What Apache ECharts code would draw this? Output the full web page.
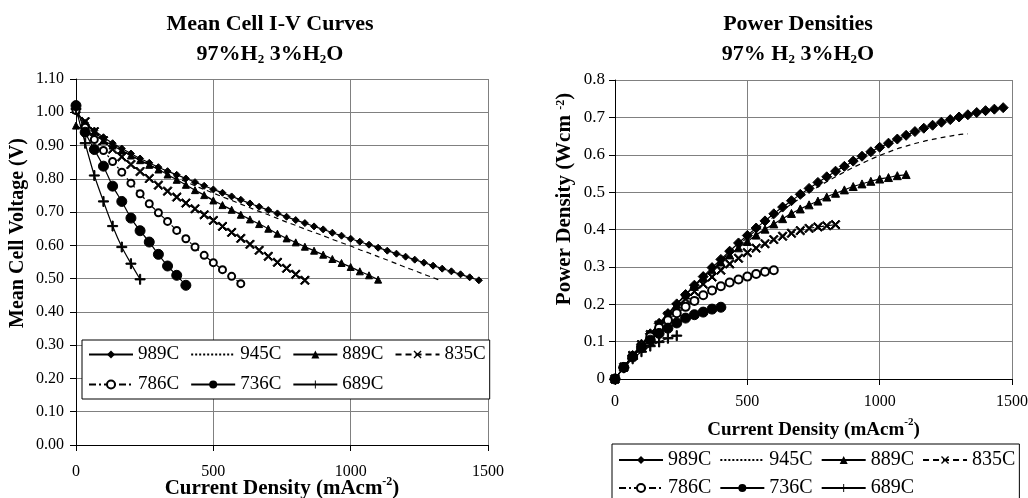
<!DOCTYPE html>
<html>
<head>
<meta charset="utf-8">
<script src="https://cdn.jsdelivr.net/npm/echarts@6/dist/echarts.min.js"></script>
<style>
html,body{margin:0;padding:0;background:#fff;}
#chart{width:1028px;height:498px;}
</style>
</head>
<body>
<div id="chart"></div>
<script>
// ---- data ----
const temps = ['989C', '945C', '889C', '835C', '786C', '736C', '689C'];
const current = [0, 33.3, 66.7, 100, 133.3, 166.7, 200, 233.3, 266.7, 300, 333.3, 366.7, 400, 433.3, 466.7, 500,
  533.3, 566.7, 600, 633.3, 666.7, 700, 733.3, 766.7, 800, 833.3, 866.7, 900, 933.3, 966.7, 1000,
  1033.3, 1066.7, 1100, 1133.3, 1166.7, 1200, 1233.3, 1266.7, 1300, 1333.3, 1366.7, 1400, 1433.3, 1466.7];

// mean cell voltage (V)
const v989 = [1.005, 0.968, 0.945, 0.925, 0.907, 0.891, 0.876, 0.861, 0.848, 0.835, 0.823, 0.812, 0.801, 0.790, 0.779, 0.768,
  0.758, 0.747, 0.737, 0.726, 0.716, 0.706, 0.696, 0.686, 0.676, 0.667, 0.657, 0.648, 0.638, 0.629, 0.620,
  0.611, 0.602, 0.593, 0.584, 0.575, 0.566, 0.557, 0.548, 0.539, 0.530, 0.522, 0.513, 0.504, 0.495];
const v945 = [0.995, 0.965, 0.942, 0.921, 0.903, 0.886, 0.870, 0.855, 0.841, 0.828, 0.815, 0.803, 0.791, 0.779, 0.768, 0.757,
  0.746, 0.735, 0.724, 0.713, 0.702, 0.692, 0.681, 0.670, 0.660, 0.649, 0.639, 0.629, 0.618, 0.608, 0.598,
  0.587, 0.577, 0.566, 0.556, 0.545, 0.534, 0.524, 0.513, 0.503, 0.492];
const v889 = [0.960, 0.945, 0.930, 0.915, 0.900, 0.885, 0.870, 0.856, 0.842, 0.828, 0.813, 0.797, 0.782, 0.766, 0.751, 0.735,
  0.721, 0.707, 0.692, 0.678, 0.664, 0.650, 0.635, 0.621, 0.609, 0.596, 0.584, 0.572, 0.559, 0.547, 0.535,
  0.522, 0.510, 0.497];
const v835 = [1.010, 0.972, 0.942, 0.915, 0.889, 0.866, 0.843, 0.822, 0.801, 0.781, 0.763, 0.745, 0.727, 0.710, 0.692, 0.675,
  0.657, 0.639, 0.621, 0.603, 0.585, 0.567, 0.549, 0.531, 0.513, 0.495];
const v786 = [1.005, 0.955, 0.918, 0.885, 0.852, 0.820, 0.787, 0.755, 0.725, 0.698, 0.672, 0.645, 0.620, 0.595, 0.570, 0.548,
  0.527, 0.507, 0.485];
const v736 = [1.020, 0.940, 0.888, 0.838, 0.778, 0.732, 0.682, 0.644, 0.610, 0.573, 0.538, 0.510, 0.480];
const v689 = [1.010, 0.907, 0.810, 0.732, 0.658, 0.595, 0.545, 0.498];

// power density (W cm^-2)
const p989 = [0, 0.032, 0.063, 0.093, 0.121, 0.149, 0.175, 0.201, 0.226, 0.251, 0.274, 0.298, 0.320, 0.342, 0.364, 0.384,
  0.404, 0.423, 0.442, 0.460, 0.477, 0.494, 0.510, 0.526, 0.541, 0.556, 0.569, 0.583, 0.596, 0.608, 0.620,
  0.631, 0.642, 0.652, 0.662, 0.671, 0.679, 0.687, 0.694, 0.701, 0.707, 0.713, 0.718, 0.722, 0.726];
const p945 = [0, 0.032, 0.063, 0.092, 0.120, 0.148, 0.174, 0.200, 0.224, 0.248, 0.272, 0.295, 0.316, 0.338, 0.358, 0.379,
  0.398, 0.417, 0.434, 0.452, 0.468, 0.484, 0.499, 0.514, 0.528, 0.541, 0.554, 0.566, 0.577, 0.588, 0.598,
  0.607, 0.616, 0.623, 0.630, 0.636, 0.641, 0.646, 0.650, 0.654, 0.656];
const p889 = [0, 0.032, 0.062, 0.092, 0.120, 0.148, 0.174, 0.200, 0.225, 0.248, 0.271, 0.292, 0.313, 0.332, 0.351, 0.368,
  0.385, 0.401, 0.415, 0.429, 0.443, 0.455, 0.466, 0.476, 0.487, 0.497, 0.506, 0.515, 0.522, 0.529, 0.535,
  0.539, 0.544, 0.547];
const p835 = [0, 0.032, 0.063, 0.092, 0.119, 0.144, 0.169, 0.192, 0.214, 0.234, 0.254, 0.273, 0.291, 0.308, 0.323, 0.338,
  0.350, 0.362, 0.373, 0.382, 0.390, 0.397, 0.403, 0.407, 0.410, 0.413];
const p786 = [0, 0.032, 0.061, 0.089, 0.114, 0.137, 0.157, 0.176, 0.193, 0.209, 0.224, 0.237, 0.248, 0.258, 0.266, 0.274,
  0.281, 0.287, 0.291];
const p736 = [0, 0.031, 0.059, 0.084, 0.104, 0.122, 0.136, 0.150, 0.163, 0.172, 0.179, 0.187, 0.192];
const p689 = [0, 0.030, 0.054, 0.073, 0.088, 0.099, 0.109, 0.116];

const voltages = [v989, v945, v889, v835, v786, v736, v689];
const powers = [p989, p945, p889, p835, p786, p736, p689];

// ---- styles ----
const FONT = 'Liberation Serif';
const CROSS = 'path://M0,1.2 L1.2,0 L5,3.8 L8.8,0 L10,1.2 L6.2,5 L10,8.8 L8.8,10 L5,6.2 L1.2,10 L0,8.8 L3.8,5 Z';
const PLUS = 'path://M4.4,0 L5.6,0 L5.6,4.4 L10,4.4 L10,5.6 L5.6,5.6 L5.6,10 L4.4,10 L4.4,5.6 L0,5.6 L0,4.4 L4.4,4.4 Z';
const styles = [
  { symbol: 'diamond', sizeL: 7, sizeR: 10, dash: 'solid' },
  { symbol: 'none', sizeL: 0, sizeR: 0, dash: [5, 4] },
  { symbol: 'triangle', sizeL: 7, sizeR: 8, dash: 'solid' },
  { symbol: CROSS, sizeL: 9, sizeR: 9, dash: [6, 4] },
  { symbol: 'emptyCircle', sizeL: 7, sizeR: 8, dash: [7, 3, 2, 3] },
  { symbol: 'circle', sizeL: 10, sizeR: 10, dash: 'solid' },
  { symbol: PLUS, sizeL: 10, sizeR: 10, dash: 'solid' }
];

function mkSeries(idx, ys, gi) {
  const st = styles[idx];
  return {
    type: 'line',
    name: temps[idx],
    xAxisIndex: gi,
    yAxisIndex: gi,
    data: ys.map((v, i) => [current[i], v]),
    symbol: st.symbol,
    symbolSize: gi === 0 ? st.sizeL : st.sizeR,
    showSymbol: st.symbol !== 'none',
    smooth: 0.2,
    lineStyle: { color: '#000', width: 1.2, type: st.dash },
    itemStyle: { color: '#000', borderColor: '#000' },
    emphasis: { disabled: true }
  };
}

const series = [];
voltages.forEach((v, i) => series.push(mkSeries(i, v, 0)));
powers.forEach((p, i) => series.push(mkSeries(i, p, 1)));

const legendData = temps.map(t => t === '945C'
  ? { name: t, itemStyle: { opacity: 0 }, lineStyle: { type: [2, 2] } }
  : { name: t });

const lbl = (size, margin, fmt) => ({
  fontFamily: FONT, fontWeight: 'normal', fontStyle: 'normal', fontSize: size, color: '#000', margin, formatter: fmt
});
const axisLine = { show: true, lineStyle: { color: '#000', width: 1 } };
const splitLine = { show: true, lineStyle: { color: '#808080', width: 1 } };
const tick = { show: true, inside: false, length: 6, lineStyle: { color: '#000' } };
const plain = v => String(v);

const chart = echarts.init(document.getElementById('chart'), null, { renderer: 'canvas' });
chart.setOption({
  animation: false,
  backgroundColor: '#fff',
  textStyle: { fontFamily: FONT },
  title: [
    {
      text: 'Mean Cell I-V Curves\n97%H{s|2} 3%H{s|2}O',
      left: 265, top: 4, textAlign: 'center',
      textStyle: {
        fontFamily: FONT, fontWeight: 'bold', fontSize: 22, lineHeight: 30, color: '#000',
        rich: { s: { fontFamily: FONT, fontWeight: 'bold', fontSize: 13, verticalAlign: 'bottom', padding: [0, 0, 3, 0] } }
      }
    },
    {
      text: 'Power Densities\n97% H{s|2} 3%H{s|2}O',
      left: 793, top: 4, textAlign: 'center',
      textStyle: {
        fontFamily: FONT, fontWeight: 'bold', fontSize: 22, lineHeight: 30, color: '#000',
        rich: { s: { fontFamily: FONT, fontWeight: 'bold', fontSize: 13, verticalAlign: 'bottom', padding: [0, 0, 3, 0] } }
      }
    }
  ],
  legend: [
    {
      data: legendData,
      left: 82, top: 340, width: 400,
      orient: 'horizontal',
      itemWidth: 44, itemHeight: 10, itemGap: 11,
      padding: [5, 4, 5, 6],
      borderColor: '#000', borderWidth: 1, backgroundColor: '#fff',
      textStyle: { fontFamily: FONT, fontWeight: 'normal', fontSize: 19, color: '#000' },
      selectedMode: false
    },
    {
      data: legendData,
      left: 612, top: 444, width: 400,
      orient: 'horizontal',
      itemWidth: 44, itemHeight: 10, itemGap: 8,
      padding: [6, 4, 6, 6],
      borderColor: '#000', borderWidth: 1, backgroundColor: '#fff',
      textStyle: { fontFamily: FONT, fontWeight: 'normal', fontSize: 20, color: '#000' },
      selectedMode: false
    }
  ],
  grid: [
    { left: 76, right: 540, top: 79, bottom: 53, containLabel: false, outerBoundsMode: 'none' },
    { left: 615, right: 16, top: 80, bottom: 119, containLabel: false, outerBoundsMode: 'none' }
  ],
  xAxis: [
    {
      type: 'value', gridIndex: 0, min: 0, max: 1500, interval: 500,
      axisLine, splitLine, axisTick: tick,
      axisLabel: lbl(16, 19, plain),
      name: 'Current Density (mAcm{sup|-2})', nameLocation: 'middle', nameGap: 31, nameMoveOverlap: false,
      nameTextStyle: {
        fontFamily: FONT, fontWeight: 'bold', fontSize: 21, color: '#000', lineHeight: 26,
        rich: { sup: { fontFamily: FONT, fontWeight: 'bold', fontSize: 12, verticalAlign: 'top' } }
      }
    },
    {
      type: 'value', gridIndex: 1, min: 0, max: 1500, interval: 500,
      axisLine, splitLine, axisTick: tick,
      axisLabel: lbl(16, 15, plain),
      name: 'Current Density (mAcm{sup|-2})', nameLocation: 'middle', nameGap: 38, nameMoveOverlap: false,
      nameTextStyle: {
        fontFamily: FONT, fontWeight: 'bold', fontSize: 19, color: '#000', lineHeight: 26,
        rich: { sup: { fontFamily: FONT, fontWeight: 'bold', fontSize: 11, verticalAlign: 'top' } }
      }
    }
  ],
  yAxis: [
    {
      type: 'value', gridIndex: 0, min: 0, max: 1.1, interval: 0.1,
      axisLine, splitLine, axisTick: tick,
      axisLabel: lbl(16, 12, v => v.toFixed(2))
    },
    {
      type: 'value', gridIndex: 1, min: 0, max: 0.8, interval: 0.1,
      axisLine, splitLine, axisTick: tick,
      axisLabel: lbl(17, 10, v => (Math.round(v * 10) / 10).toString())
    }
  ],
  graphic: [
    {
      type: 'text', x: 18, y: 233, rotation: Math.PI / 2,
      style: {
        text: 'Mean Cell Voltage (V)', fontFamily: FONT, fontWeight: 'bold', fontSize: 20,
        fill: '#000', align: 'center', verticalAlign: 'middle'
      }
    },
    {
      type: 'text', x: 565, y: 199, rotation: Math.PI / 2,
      style: {
        text: 'Power Density (Wcm {sup|-2})', fontFamily: FONT, fontWeight: 'bold', fontSize: 21,
        fill: '#000', align: 'center', verticalAlign: 'middle',
        rich: { sup: { fontFamily: FONT, fontWeight: 'bold', fontSize: 12, verticalAlign: 'top', fill: '#000' } }
      }
    }
  ],
  series
});
</script>
</body>
</html>
